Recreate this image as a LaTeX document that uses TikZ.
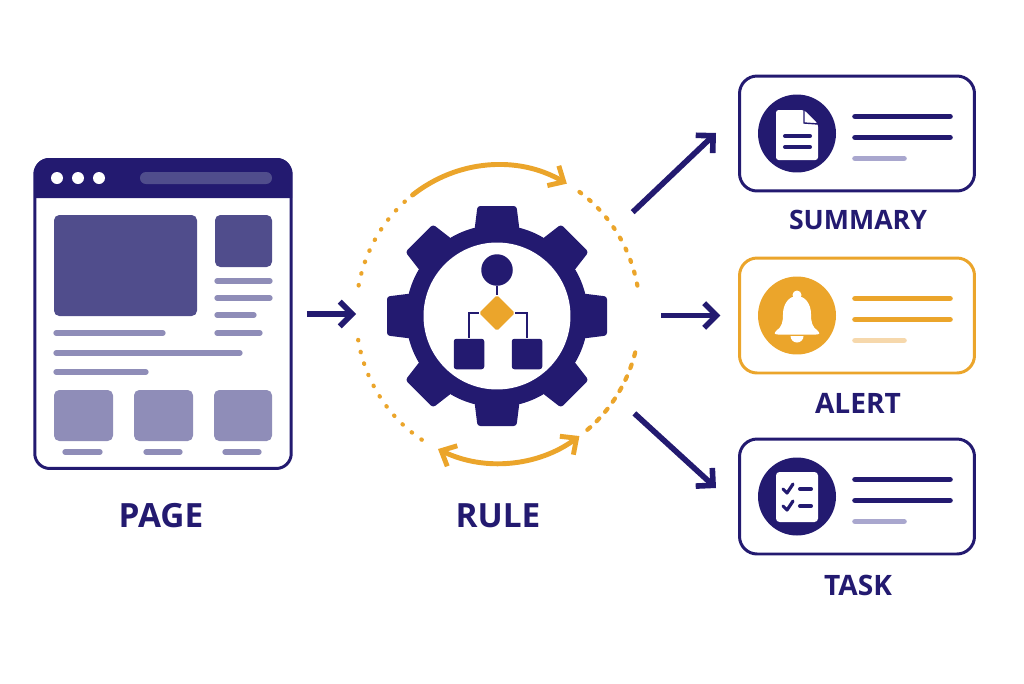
\documentclass[tikz,border=0pt]{standalone}
\usepackage{fontspec}
\setmainfont{Open Sans}
\usetikzlibrary{arrows.meta,shapes.geometric}

\definecolor{navy}{HTML}{231A70}
\definecolor{amber}{HTML}{EBA52B}
\definecolor{paleamber}{HTML}{F6D8AC}
\definecolor{midnavy}{HTML}{504D8C}
\definecolor{softnavy}{HTML}{8F8DB8}
\definecolor{palenavy}{HTML}{A9A7CE}

\tikzset{
    flow/.style={navy,line width=3.2pt,-{Straight Barb[length=7pt,width=14pt,line width=3.2pt]}},
    orbit/.style={amber,line width=2.8pt,line cap=round},
    orbittip/.style={-{Straight Barb[length=7pt,width=13pt,line width=2.8pt]}},
    orbittips/.style={{Straight Barb[length=7pt,width=13pt,line width=2.8pt]}-{Straight Barb[length=7pt,width=13pt,line width=2.8pt]}},
    orbitdots/.style={amber,line width=2.4pt,line cap=round,dash pattern=on 0.3pt off 6.6pt},
    orbitshort/.style={amber,line width=2.4pt,line cap=round,dash pattern=on 1.2pt off 5.8pt},
    orbitlong/.style={amber,line width=2.4pt,line cap=round,dash pattern=on 2.2pt off 5pt},
    pagebar/.style={softnavy,line width=3pt,line cap=round},
    cardbox/.style={draw,line width=1.7pt,rounded corners=10pt,minimum width=47mm,minimum height=23mm,inner sep=0pt},
    caption/.style={navy,font=\bfseries,inner sep=0pt},
    treebox/.style={rectangle,fill=navy,rounded corners=1.5pt,minimum size=6.1mm,inner sep=0pt},
    treewire/.style={navy,line width=1.1pt}
}

\begin{document}
\begin{tikzpicture}[x=0.02cm,y=-0.02cm]
    \useasboundingbox (0,0) rectangle (1024,683);

    % Page window
    \node[draw=navy,line width=1.7pt,rounded corners=8.5pt,minimum width=51.3mm,minimum height=61.8mm,inner sep=0pt] (page) at (163,314) {};
    \fill[navy] (34,198) -- (34,175) [rounded corners=8.5pt] -- (34,158) -- (292,158) [sharp corners] -- (292,175) -- (292,198) -- cycle;
    \foreach \x in {57,78,99} {
        \fill[white] (\x,178) circle (6);
    }
    \fill[midnavy,rounded corners=3.4pt] (140,172) rectangle (272,184);
    \fill[midnavy,rounded corners=3pt] (54,215) rectangle (197,316);
    \fill[midnavy,rounded corners=3pt] (215,215) rectangle (272,267);
    \foreach \xa/\xb/\y in {217/270/281, 217/270/298, 217/254/315, 217/260/333, 56/163/333, 56/240/353, 56/146/372, 65/100/452, 146/180/452, 225/259/452} {
        \draw[pagebar] (\xa,\y) -- (\xb,\y);
    }
    \foreach \xa/\xb in {54/113, 134/193, 214/272} {
        \fill[softnavy,rounded corners=3pt] (\xa,390) rectangle (\xb,441);
    }
    \node[caption,font=\bfseries\fontsize{19}{23}\selectfont] (pagelabel) at (161,516) {PAGE};

    % Gear
    \foreach \a in {0,45,...,315} {
        \fill[navy,rounded corners=1.6pt,shift={(497,316)},rotate=\a] (-22.5,-86) -- (-19.5,-110) -- (19.5,-110) -- (22.5,-86) -- cycle;
    }
    \node[circle,fill=navy,minimum size=36.4mm,inner sep=0pt] (gear) at (497,316) {};
    \node[circle,fill=white,minimum size=29.4mm,inner sep=0pt] (hole) at (497,316) {};

    % Small tree inside the gear
    \node[circle,fill=navy,minimum size=6.3mm,inner sep=0pt] (root) at (497,270) {};
    \node[diamond,fill=amber,rounded corners=1pt,minimum size=7.2mm,inner sep=0pt] (decide) at (497,313) {};
    \node[treebox] (leafa) at (469,354) {};
    \node[treebox] (leafb) at (527,354) {};
    \draw[treewire] (root) -- (decide);
    \draw[treewire] (decide) -| (leafa);
    \draw[treewire] (decide) -| (leafb);

    % Orbit round the gear
    \node[ellipse,minimum width=56.8mm,minimum height=59.8mm,inner sep=0pt,outer sep=0pt] (ring) at (498,314) {};
    \draw[orbit,orbittip] ([shift={(-127:142 and 149)}]ring.center) arc[start angle=-127,end angle=-61,x radius=142,y radius=149];
    \draw[orbit,orbittips] ([shift={(115:142 and 149)}]ring.center) arc[start angle=115,end angle=55,x radius=142,y radius=149];
    \draw[orbitdots] ([shift={(-131:142 and 149)}]ring.center) arc[start angle=-131,end angle=-172,x radius=142,y radius=149];
    \draw[orbitdots] ([shift={(170:142 and 149)}]ring.center) arc[start angle=170,end angle=122,x radius=142,y radius=149];
    \draw[orbitshort] ([shift={(-55:142 and 149)}]ring.center) arc[start angle=-55,end angle=-8,x radius=142,y radius=149];
    \draw[orbitlong] ([shift={(51:142 and 149)}]ring.center) arc[start angle=51,end angle=14,x radius=142,y radius=149];
    \node[caption,font=\bfseries\fontsize{19}{23}\selectfont] (rulelabel) at (498,516) {RULE};

    % Output cards
    \foreach \cname/\cy/\cmain/\clight in {summary/133.5/navy/palenavy, alert/315.5/amber/paleamber, task/496.5/navy/palenavy} {
        \node[cardbox,draw=\cmain] (\cname) at (857,\cy) {};
        \node[circle,fill=\cmain,minimum size=15.6mm,inner sep=0pt] (\cname icon) at (797,\cy) {};
        \draw[\cmain,line width=3.2pt,line cap=round] (855,\cy-17) -- (950,\cy-17);
        \draw[\cmain,line width=3.2pt,line cap=round] (855,\cy+4) -- (950,\cy+4);
        \draw[\clight,line width=3.2pt,line cap=round] (855,\cy+25) -- (904,\cy+25);
    }

    % Document icon
    \fill[white,rounded corners=1.5pt] (776,110) -- (804,110) -- (818,124) -- (818,160) -- (776,160) -- cycle;
    \draw[navy,line width=0.8pt] (804,110) -- (804,123) -- (818,124);
    \draw[navy,line width=2.3pt,line cap=round] (785,136) -- (810,136);
    \draw[navy,line width=2.3pt,line cap=round] (785,147) -- (810,147);

    % Bell icon
    \begin{scope}[shift={(797,318)}]
        \fill[white] (0,-23) circle (4.5);
        \fill[white] (-21,13) .. controls (-15,9) and (-14,4) .. (-14,-4) .. controls (-14,-14) and (-8,-22) .. (0,-22) .. controls (8,-22) and (14,-14) .. (14,-4) .. controls (14,4) and (15,9) .. (21,13) .. controls (23,16) .. (19,16.5) -- (-19,16.5) .. controls (-23,16) .. (-21,13) -- cycle;
        \fill[white] (-6.5,18) arc[start angle=180,end angle=0,radius=6.5] -- cycle;
    \end{scope}

    % Checklist icon
    \fill[white,rounded corners=2pt] (776,472) rectangle (818,522);
    \foreach \y in {489,506} {
        \draw[navy,line width=1.8pt,line cap=round,line join=round] (783,\y) -- (787,\y+4) -- (793,\y-5);
        \draw[navy,line width=2.3pt,line cap=round] (800,\y) -- (811,\y);
    }

    \node[caption,font=\bfseries\fontsize{15.2}{20}\selectfont] (summarylabel) at (858,220) {SUMMARY};
    \node[caption,font=\bfseries\fontsize{16}{20}\selectfont] (alertlabel) at (858,403) {ALERT};
    \node[caption,font=\bfseries\fontsize{16}{20}\selectfont] (tasklabel) at (858,585) {TASK};

    % Connectors
    \coordinate (summarytip) at (716,133);
    \coordinate (tasktip) at (716,488);
    \draw[flow,shorten <=8pt] (page.east) -- (ring.west);
    \draw[flow,shorten <=12pt,shorten >=10pt] (ring.east |- alert.west) -- (alert.west);
    \draw[flow,shorten <=14pt] (ring.36) -- (summarytip);
    \draw[flow,shorten <=14pt] (ring.-35) -- (tasktip);

\end{tikzpicture}
\end{document}
